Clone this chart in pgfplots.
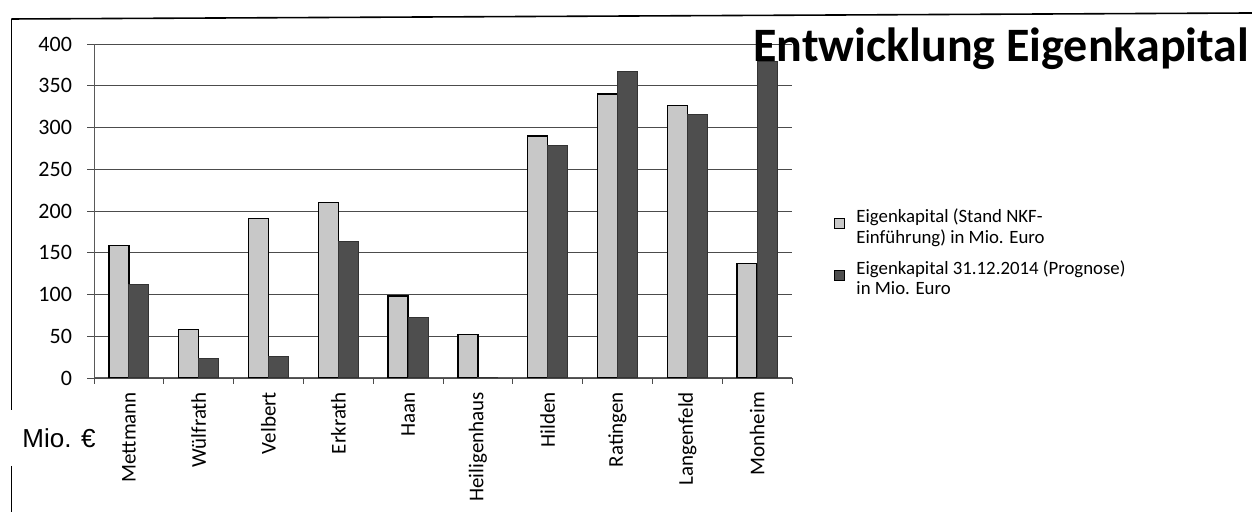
\documentclass[border=0pt]{standalone}
\usepackage{pgfplots}
\pgfplotsset{compat=1.18}
\usepackage{fontspec}
\setmainfont{Carlito}
\newfontfamily\arialfont{Liberation Sans}
\definecolor{lightbar}{HTML}{C8C8C8}
\definecolor{darkbar}{HTML}{4E4E4E}
\begin{document}
\begin{tikzpicture}
\useasboundingbox (0,0) rectangle (626pt,256pt);
% frame of the scanned page
\draw[line width=0.8pt] (5.75pt,246.5pt) -- (626pt,249.5pt);
\draw[line width=0.8pt] (5.75pt,246.5pt) -- (5.75pt,51pt);
\draw[line width=0.8pt] (5.75pt,23pt) -- (5.75pt,0pt);
\begin{axis}[
  at={(47pt,67pt)}, anchor=south west,
  scale only axis, width=349pt, height=167pt,
  xmin=-0.5, xmax=9.5, ymin=0, ymax=400,
  ytick={0,50,...,400},
  xtick={0,...,9},
  xticklabels={Mettmann,Wülfrath,Velbert,Erkrath,Haan,Heiligenhaus,Hilden,Ratingen,Langenfeld,Monheim},
  minor xtick={-0.5,0.5,...,9.5},
  major x tick style={draw=none},
  minor tick length=3pt,
  major tick length=3.5pt,
  tick align=outside,
  axis x line*=bottom, axis y line*=left,
  axis line style={gray!70!black, line width=0.5pt, -},
  ymajorgrids, grid style={gray!60!black, line width=0.45pt},
  tick style={gray!60!black, line width=0.45pt},
  /pgf/number format/assume math mode=true,
  yticklabel style={font=\fontsize{11}{13}\selectfont, xshift=-4pt},
  xticklabel style={font=\fontsize{10.5}{12}\selectfont, rotate=90, anchor=east, yshift=0pt},
  ybar, bar width=10pt,
  legend style={at={(1.0505,0.525)}, anchor=north west, draw=none, fill=none,
    font=\fontsize{9.4}{10.3}\selectfont, nodes={align=left, inner sep=1pt},
    row sep=5pt, column sep=0pt},
  legend cell align=left,
  legend image code/.code={\draw[#1,draw=black,line width=0.4pt] (-1pt,-0.5pt) rectangle (4pt,4.5pt);},
]
\addplot[fill=lightbar, draw=black, line width=0.7pt, bar shift=-5pt] coordinates {
 (0,159) (1,58) (2,191) (3,210) (4,98) (5,52) (6,290) (7,340) (8,326) (9,137)};
\addlegendentry{\hspace{5pt}Eigenkapital (Stand NKF-\\\hspace{5pt}Einführung) in Mio. Euro}
\addplot[fill=darkbar, draw=black!80, line width=0.5pt, bar shift=5pt] coordinates {
 (0,112) (1,23) (2,26) (3,163) (4,73) (5,1) (6,278) (7,367) (8,316) (9,379)};
\addlegendentry{\hspace{5pt}Eigenkapital 31.12.2014 (Prognose)\\\hspace{5pt}in Mio. Euro}
\end{axis}
\node[anchor=base west, inner sep=0pt, font=\bfseries\fontsize{24}{28}\selectfont] at (376.5pt,225pt) {Entwicklung Eigenkapital};
\node[anchor=base west, inner sep=0pt, font=\arialfont\fontsize{13}{15}\selectfont] at (11pt,32pt) {Mio. €};
\end{tikzpicture}
\end{document}
